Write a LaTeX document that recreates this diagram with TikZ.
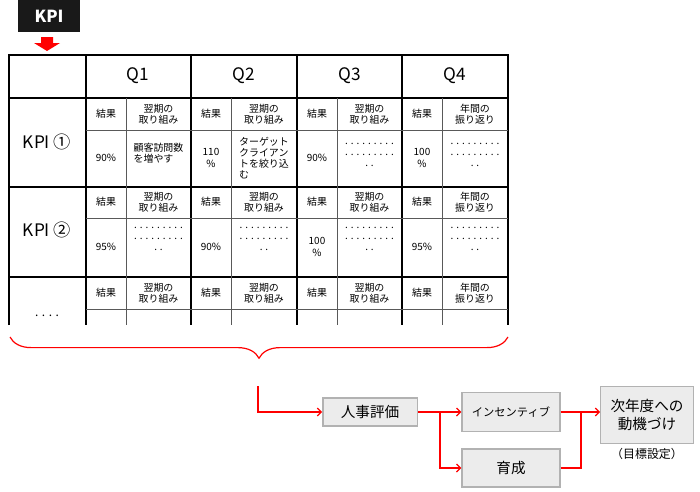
\documentclass[tikz,border=0pt]{standalone}
\usepackage{fontspec}
\setmainfont{Noto Sans CJK JP}
\usetikzlibrary{decorations.pathreplacing,arrows.meta}
\begin{document}
\begin{tikzpicture}[x=0.0265cm,y=-0.0265cm,
  grid/.style={line width=0.9pt},
  thin/.style={line width=0.5pt,gray!70!black},
  sm/.style={font=\fontsize{7.5}{8.5}\selectfont,align=center,inner sep=0pt},
  flowbox/.style={draw=gray!60,fill=gray!15,line width=1pt,minimum height=0.75cm,inner sep=2pt},
  redline/.style={red,line width=0.9pt},
  redarrow/.style={red,line width=0.9pt,-{Straight Barb[length=3pt,width=6pt]}}]
\useasboundingbox (0,0) rectangle (700,491);
% KPI label
\node[fill=black!90,text=white,font=\bfseries\fontsize{12.5}{13}\selectfont,minimum width=1.65cm,minimum height=0.87cm,inner sep=0pt] (kpi) at (49,16) {KPI};
\fill[red] (41,37) rectangle (53,43) (34,43) -- (60,43) -- (47,51) -- cycle;
% table grid
\draw[grid] (9,325) -- (9,55) -- (508,55) -- (508,325);
\foreach \x in {86,191,297,402} \draw[grid] (\x,55) -- (\x,325);
\foreach \y in {98,187,277} \draw[grid] (9,\y) -- (508,\y);
\foreach \x in {126,231,337,442} \draw[thin] (\x,98) -- (\x,325);
\foreach \y in {130,218,309} \draw[thin] (86,\y) -- (508,\y);
% headers
\foreach \q/\x in {Q1/138,Q2/244,Q3/350,Q4/455}
  \node[font=\fontsize{13}{14}\selectfont] (h\q) at (\x,76) {\q};
\node[font=\fontsize{13}{14}\selectfont] (k1) at (47,142) {KPI ①};
\node[font=\fontsize{13}{14}\selectfont] (k2) at (47,230) {KPI ②};
\node[font=\fontsize{9}{9}\selectfont] (k3) at (47,316) {. . . .};
% sub headers
\foreach \r in {114,202,293}{
  \foreach \x/\t in {106/結果,211/結果,317/結果,422/結果}
    \node[sm] at (\x,\r) {\t};
  \foreach \x in {158.5,264,369.5}
    \node[sm] at (\x,\r) {翌期の\\取り組み};
  \node[sm] at (475,\r) {年間の\\振り返り};
}
\def\dts{. . . . . . . . .\\. . . . . . . . .\\. .}
% KPI1 data
\node[sm] at (106,158) {90\%};
\node[sm,align=left] at (158.5,153) {顧客訪問数\\を増やす};
\node[sm] at (211,158) {110\\\%};
\node[sm,align=left] at (264,158) {ターゲット\\クライアン\\トを絞り込\\む};
\node[sm] at (317,158) {90\%};
\node[sm] at (369.5,155) {\dts};
\node[sm] at (422,158) {100\\\%};
\node[sm] at (475,155) {\dts};
% KPI2 data
\node[sm] at (106,247) {95\%};
\node[sm] at (158.5,239) {\dts};
\node[sm] at (211,247) {90\%};
\node[sm] at (264,239) {\dts};
\node[sm] at (317,247) {100\\\%};
\node[sm] at (369.5,239) {\dts};
\node[sm] at (422,247) {95\%};
\node[sm] at (475,239) {\dts};
% brace
\draw[redline,decorate,decoration={brace,mirror,amplitude=16pt}] (10,337) -- (508,337);
% flow
\node[flowbox,minimum width=2.5cm,font=\fontsize{11}{12}\selectfont] (hr) at (370,412) {人事評価};
\node[flowbox,minimum width=2.6cm,minimum height=1.05cm,font=\fontsize{8.5}{9}\selectfont] (inc) at (511,412) {インセンティブ};
\node[flowbox,minimum width=2.6cm,minimum height=1.0cm,font=\fontsize{11}{12}\selectfont] (dev) at (511,468) {育成};
\node[flowbox,minimum width=2.45cm,minimum height=1.5cm,font=\fontsize{11}{14}\selectfont,align=center] (mot) at (647,415) {次年度への\\動機づけ};
\node[font=\fontsize{9}{10}\selectfont,anchor=north] (goal) at (mot.south) {（目標設定）};
\coordinate (bt) at (258,386);
\draw[redarrow] (bt) |- (hr.west);
\coordinate (sp) at (440,412);
\draw[redarrow] (hr.east) -- (inc.west);
\draw[redarrow] (sp) |- (dev.west);
\coordinate (jn) at (581,412);
\draw[redline] (dev.east) -| (jn);
\draw[redarrow] (inc.east) -- (inc.east -| mot.west);
\end{tikzpicture}
\end{document}
